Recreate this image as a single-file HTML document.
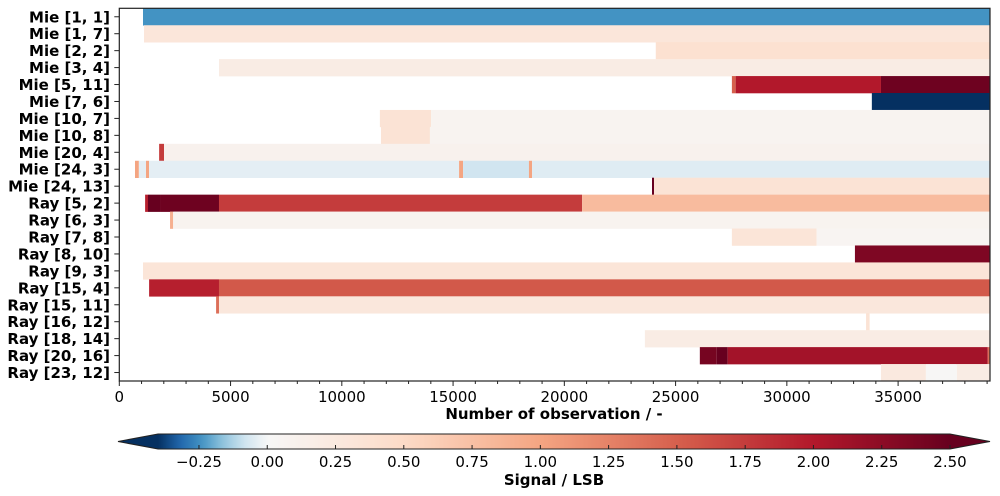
<!DOCTYPE html>
<html><head><meta charset="utf-8"><style>
html,body{margin:0;padding:0;background:#fff;}
svg{display:block;font-family:"DejaVu Sans","Liberation Sans",sans-serif;}
</style></head><body>
<svg id="chart" width="1000" height="496" viewBox="0 0 1000 496" xmlns="http://www.w3.org/2000/svg">
<g id="cells"></g>
<g id="axes"></g>
<g id="cbar"></g>
</svg>
<script>
const rowLabels = ["Mie [1, 1]","Mie [1, 7]","Mie [2, 2]","Mie [3, 4]","Mie [5, 11]","Mie [7, 6]","Mie [10, 7]","Mie [10, 8]","Mie [20, 4]","Mie [24, 3]","Mie [24, 13]","Ray [5, 2]","Ray [6, 3]","Ray [7, 8]","Ray [8, 10]","Ray [9, 3]","Ray [15, 4]","Ray [15, 11]","Ray [16, 12]","Ray [18, 14]","Ray [20, 16]","Ray [23, 12]"];
// segments per row: [start, end, value]
const seg0 = [[1065,39130,-0.24]];
const seg1 = [[1110,39130,0.3]];
const seg2 = [[24110,39130,0.4]];
const seg3 = [[4480,39130,0.2]];
const seg4 = [[27530,27700,1.5],[27700,34230,2.0],[34230,39130,2.45]];
const seg5 = [[33820,39130,-0.5]];
const seg6 = [[11710,14010,0.35],[14010,39130,0.07]];
const seg7 = [[11760,13960,0.35],[13960,39130,0.07]];
const seg8 = [[1790,2010,1.75],[2010,39130,0.1]];
const seg9 = [[705,880,1.0],[880,1200,-0.04],[1200,1340,1.0],[1340,15270,-0.04],[15270,15450,1.0],[15450,18410,-0.08],[18410,18550,1.0],[18550,39130,-0.05]];
const seg10 = [[23940,24030,2.5],[24030,39130,0.35]];
const seg11 = [[1160,1290,1.95],[1290,1830,2.55],[1830,4480,2.45],[4480,20800,1.75],[20800,39130,0.8]];
const seg12 = [[2280,2420,0.9],[2420,39130,0.08]];
const seg13 = [[27530,31340,0.32],[31340,39130,0.05]];
const seg14 = [[33060,39130,2.35]];
const seg15 = [[1065,39130,0.32]];
const seg16 = [[1340,4480,1.95],[4480,39130,1.55]];
const seg17 = [[4350,4480,1.4],[4480,39130,0.28]];
const seg18 = [[33560,33720,0.35]];
const seg19 = [[23620,39130,0.2]];
const seg20 = [[26090,26850,2.4],[26850,27340,2.55],[27340,39030,2.1],[39030,39130,1.4]];
const seg21 = [[34230,36250,0.25],[36250,37640,0.02],[37640,39130,0.2]];
const segments = [seg0,seg1,seg2,seg3,seg4,seg5,seg6,seg7,seg8,seg9,seg10,seg11,seg12,seg13,seg14,seg15,seg16,seg17,seg18,seg19,seg20,seg21];
const xTicks = [0,5000,10000,15000,20000,25000,30000,35000];
const cbTicks = [-0.25,0,0.25,0.5,0.75,1.0,1.25,1.5,1.75,2.0,2.25,2.5];
const cbTickLabels = ["\u22120.25","0.00","0.25","0.50","0.75","1.00","1.25","1.50","1.75","2.00","2.25","2.50"];

const NS="http://www.w3.org/2000/svg";
const X0=119.3,X1=990,Y0=8.3,Y1=381,XMAX=39130;
const VMIN=-0.4,VMAX=2.5;
const nR=rowLabels.length, rh=(Y1-Y0)/nR;
const xs=v=>X0+(v/XMAX)*(X1-X0);
const ry=i=>Y0+i*rh;
const CB0=158,CB1=950,CBT=434,CBB=449;
const cbx=v=>CB0+(v-VMIN)/(VMAX-VMIN)*(CB1-CB0);
const anchors=["#053061","#2166ac","#4393c3","#92c5de","#d1e5f0","#f7f7f7","#fddbc7","#f4a582","#d6604d","#b2182b","#67001f"];
function hex(h){return [1,3,5].map(i=>parseInt(h.substr(i,2),16));}
function cmap(t){t=Math.max(0,Math.min(1,t));const p=t*10,i=Math.min(9,Math.floor(p)),f=p-i;const a=hex(anchors[i]),b=hex(anchors[i+1]);return "rgb("+a.map((c,k)=>Math.round(c+(b[k]-c)*f)).join(",")+")";}
function norm(v){return v<0?0.5+0.5*v/(-VMIN):0.5+0.5*v/VMAX;}
function color(v){return cmap(norm(v));}
function el(tag,attrs,parent){const e=document.createElementNS(NS,tag);for(const k in attrs)e.setAttribute(k,attrs[k]);parent.appendChild(e);return e;}

const cells=document.getElementById('cells');
segments.forEach((row,i)=>{row.forEach(s=>{
  const r=el('rect',{x:xs(s[0]),y:ry(i),width:Math.max(0.5,xs(s[1])-xs(s[0])),height:rh+0.3,fill:color(s[2])},cells);
  
  
});});

const axes=document.getElementById('axes');
const frame=el('rect',{x:X0,y:Y0,width:X1-X0,height:Y1-Y0,fill:'none',stroke:'#222','stroke-width':1.2},axes);


rowLabels.forEach((l,i)=>{
  const cy=ry(i)+rh/2;
  el('line',{x1:X0-5,x2:X0,y1:cy,y2:cy,stroke:'#222','stroke-width':1},axes);
  const t=el('text',{x:110,y:cy+5.5,'text-anchor':'end','font-size':15,'font-weight':'bold',fill:'#000'},axes);
  t.textContent=l;
  
  
});
for(let v=0;v<=XMAX;v+=1000){const x=xs(v);const major=v%5000===0;
  el('line',{x1:x,x2:x,y1:Y1,y2:Y1+(major?5:3),stroke:'#222','stroke-width':1},axes);}
xTicks.forEach(v=>{
  const t=el('text',{x:xs(v),y:Y1+21,'text-anchor':'middle','font-size':15,fill:'#000'},axes);
  t.textContent=String(v);
  
  
});
const xt=el('text',{x:554,y:419,'text-anchor':'middle','font-size':15,'font-weight':'bold',fill:'#000'},axes);
xt.textContent="Number of observation / -";



// colorbar
const cb=document.getElementById('cbar');
const defs=el('defs',{},cb);
const grad=el('linearGradient',{id:'cbg',x1:0,x2:1,y1:0,y2:0},defs);
for(let k=0;k<=100;k++){const v=VMIN+(VMAX-VMIN)*k/100;el('stop',{offset:(k/100),'stop-color':color(v)},grad);}
const body=el('rect',{x:CB0,y:CBT,width:CB1-CB0,height:CBB-CBT,fill:'url(#cbg)'},cb);


const lt=el('polygon',{points:`${CB0},${CBT} 118,${(CBT+CBB)/2} ${CB0},${CBB}`,fill:cmap(0)},cb);


const rt=el('polygon',{points:`${CB1},${CBT} 990,${(CBT+CBB)/2} ${CB1},${CBB}`,fill:cmap(1)},cb);


el('polygon',{points:`${CB0},${CBT} ${CB1},${CBT} 990,${(CBT+CBB)/2} ${CB1},${CBB} ${CB0},${CBB} 118,${(CBT+CBB)/2}`,fill:'none',stroke:'#222','stroke-width':1},cb);
cbTicks.forEach((v,k)=>{const x=cbx(v);
  el('line',{x1:x,x2:x,y1:CBB-4,y2:CBB,stroke:'#222','stroke-width':1},cb);
  const t=el('text',{x:x,y:467,'text-anchor':'middle','font-size':15,fill:'#000'},cb);
  t.textContent=cbTickLabels[k];
  
  
});
const ct=el('text',{x:554,y:485,'text-anchor':'middle','font-size':15,'font-weight':'bold',fill:'#000'},cb);
ct.textContent="Signal / LSB";


</script>
</body></html>
